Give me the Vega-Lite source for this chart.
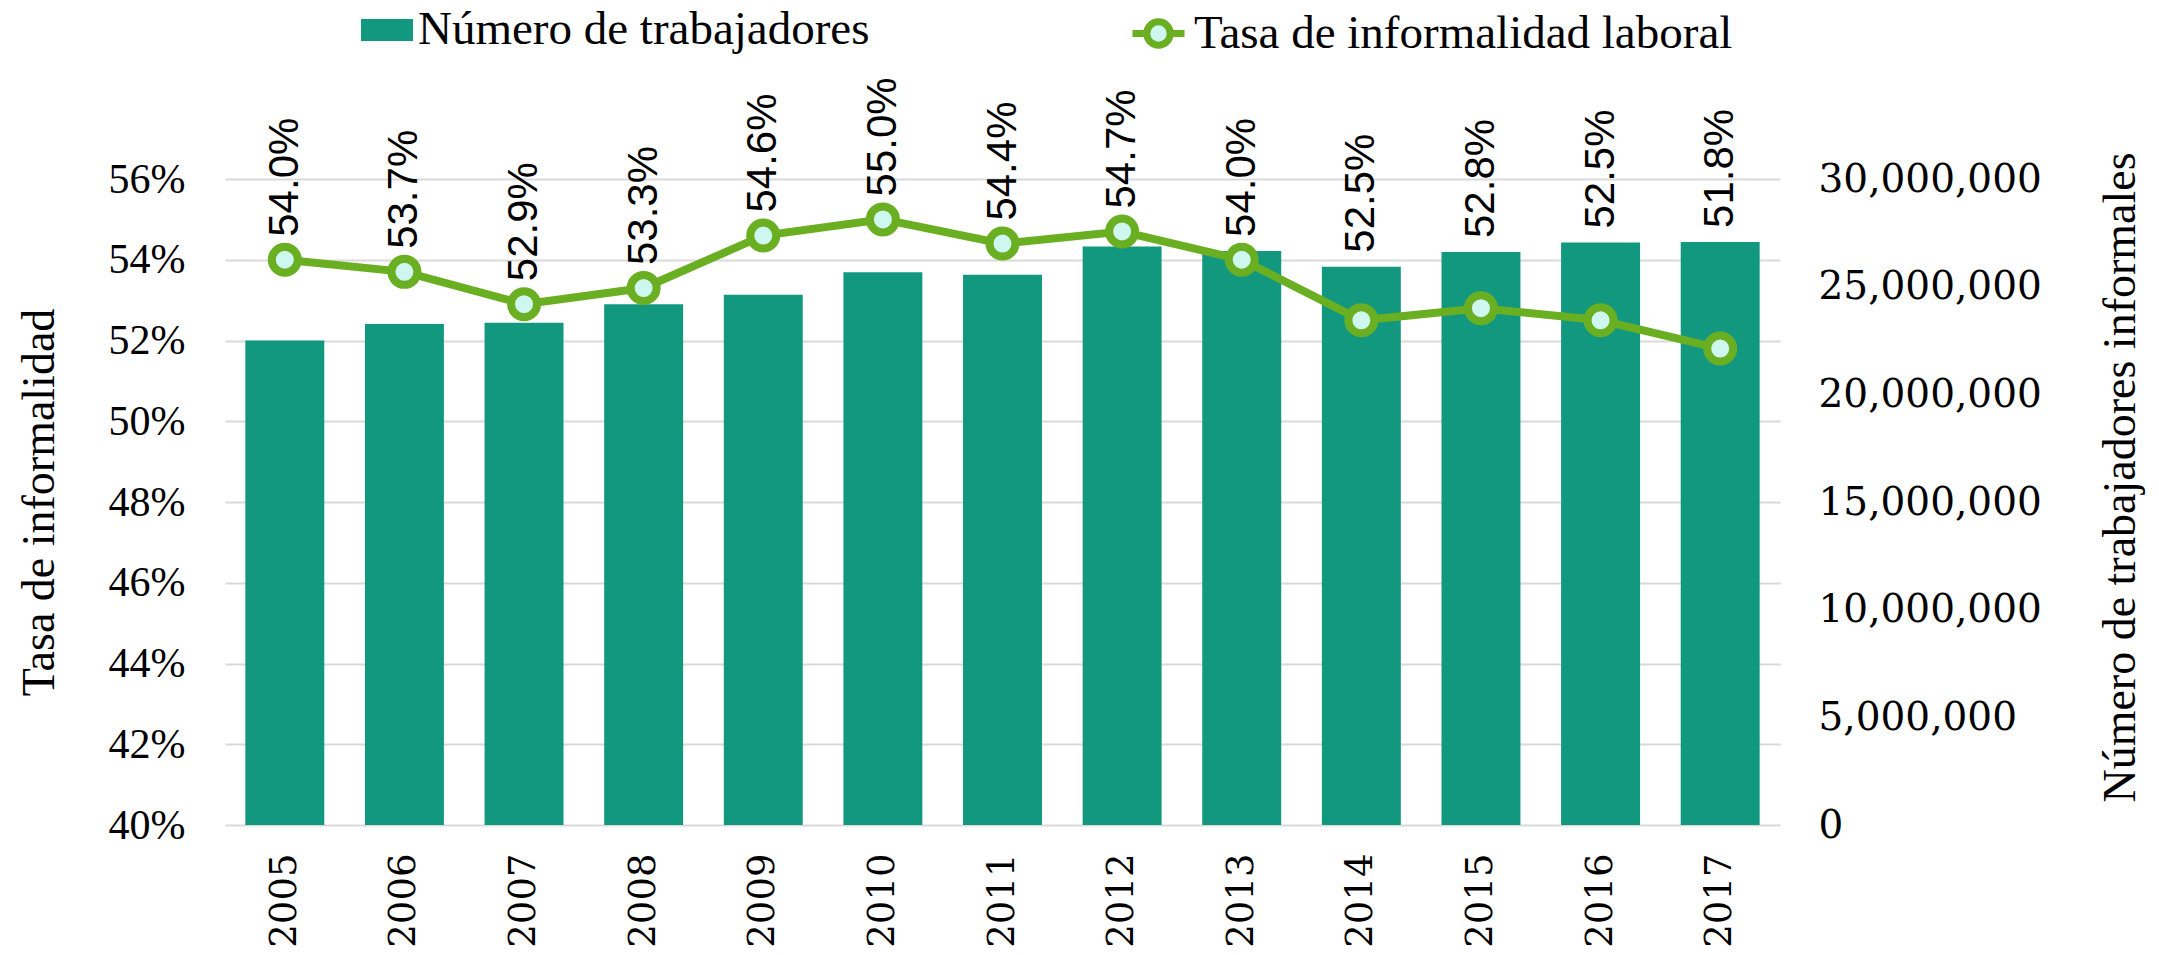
{
  "$schema": "https://vega.github.io/schema/vega-lite/v6.json",
  "width": 1555,
  "height": 646,
  "autosize": {"type": "none"},
  "padding": {"left": 225, "top": 179, "right": 379, "bottom": 130},
  "background": "white",
  "config": {
    "font": "DejaVu Serif",
    "view": {"stroke": null},
    "axis": {
      "labelFont": "DejaVu Serif",
      "labelFontSize": 37,
      "labelColor": "#000000",
      "labelLimit": 0,
      "titleFont": "Liberation Serif",
      "titleFontSize": 46,
      "titleFontWeight": "normal",
      "titleColor": "#000000",
      "titleLimit": 0,
      "ticks": false,
      "tickSize": 0,
      "domain": false
    },
    "legend": {
      "labelFont": "Liberation Serif",
      "labelFontSize": 47,
      "labelColor": "#000000",
      "labelLimit": 0,
      "padding": 0
    }
  },
  "data": {
    "values": [
      {"anio": "2005", "trabajadores": 22500000, "tasa": 0.540},
      {"anio": "2006", "trabajadores": 23270000, "tasa": 0.537},
      {"anio": "2007", "trabajadores": 23330000, "tasa": 0.529},
      {"anio": "2008", "trabajadores": 24180000, "tasa": 0.533},
      {"anio": "2009", "trabajadores": 24620000, "tasa": 0.546},
      {"anio": "2010", "trabajadores": 25670000, "tasa": 0.550},
      {"anio": "2011", "trabajadores": 25550000, "tasa": 0.544},
      {"anio": "2012", "trabajadores": 26860000, "tasa": 0.547},
      {"anio": "2013", "trabajadores": 26660000, "tasa": 0.540},
      {"anio": "2014", "trabajadores": 25930000, "tasa": 0.525},
      {"anio": "2015", "trabajadores": 26610000, "tasa": 0.528},
      {"anio": "2016", "trabajadores": 27050000, "tasa": 0.525},
      {"anio": "2017", "trabajadores": 27080000, "tasa": 0.518}
    ]
  },
  "encoding": {
    "x": {
      "field": "anio",
      "type": "ordinal",
      "scale": {"paddingInner": 0.34, "paddingOuter": 0.17},
      "axis": {
        "title": null,
        "labelAngle": 270,
        "labelAlign": "right",
        "labelBaseline": "middle",
        "labelPadding": 28,
        "grid": false
      }
    }
  },
  "layer": [
    {
      "layer": [
        {
          "mark": {"type": "bar"},
          "encoding": {
            "y": {
              "field": "trabajadores",
              "type": "quantitative",
              "scale": {"domain": [0, 30000000], "nice": false},
              "axis": {
                "orient": "right",
                "title": "Número de trabajadores informales",
                "format": ",d",
                "values": [0, 5000000, 10000000, 15000000, 20000000, 25000000, 30000000],
                "grid": false,
                "labelFontSize": 39,
                "labelPadding": 38,
                "titleAngle": 270,
                "titleBaseline": "top",
                "titleAlign": "center",
                "titleX": 318,
                "titleY": 298
              }
            },
            "fill": {
              "datum": "Número de trabajadores",
              "type": "nominal",
              "scale": {"range": ["#139880"]},
              "legend": {
                "title": null,
                "orient": "none",
                "legendX": 136,
                "legendY": -175,
                "symbolType": "M-1,-0.42H1V0.42H-1Z",
                "symbolSize": 2704,
                "symbolStrokeWidth": 0,
                "labelOffset": 5
              }
            }
          }
        },
        {
          "transform": [{"filter": "(datum.tasa - 0.40) / 0.16 < datum.trabajadores / 30000000"}],
          "mark": {"type": "text", "angle": 270, "align": "left", "baseline": "middle", "dx": 14, "fontSize": 42, "font": "Liberation Sans", "color": "#000000"},
          "encoding": {
            "y": {"field": "trabajadores", "type": "quantitative"},
            "text": {"field": "tasa", "type": "quantitative", "format": ".1%"}
          }
        }
      ]
    },
    {
      "layer": [
        {
          "mark": {"type": "line", "strokeWidth": 8},
          "encoding": {
            "y": {
              "field": "tasa",
              "type": "quantitative",
              "scale": {"domain": [0.40, 0.56], "nice": false, "zero": false},
              "axis": {
                "orient": "left",
                "title": "Tasa de informalidad",
                "format": ".0%",
                "values": [0.40, 0.42, 0.44, 0.46, 0.48, 0.50, 0.52, 0.54, 0.56],
                "grid": true,
                "gridColor": "#d9d9d9",
                "gridWidth": 2,
                "labelFont": "Liberation Serif",
                "labelFontSize": 42,
                "labelPadding": 40,
                "titlePadding": 45
              }
            },
            "stroke": {
              "datum": "Tasa de informalidad laboral",
              "type": "nominal",
              "scale": {"range": ["#6aae22"]},
              "legend": {
                "title": null,
                "orient": "none",
                "legendX": 904,
                "legendY": -175,
                "symbolType": "M-1,0H-0.45M0.45,0H1M0.45,0A0.45,0.45,0,1,1,-0.45,0A0.45,0.45,0,1,1,0.45,0Z",
                "symbolSize": 2704,
                "symbolStrokeWidth": 7,
                "symbolFillColor": "#cdf7ef",
                "labelOffset": 6,
                "encode": {"symbols": {"update": {"fill": {"value": "#cdf7ef"}}}}
              }
            }
          }
        },
        {
          "mark": {"type": "point", "shape": "circle", "filled": true, "fill": "#cdf7ef", "stroke": "#6aae22", "strokeWidth": 8, "size": 676, "opacity": 1},
          "encoding": {
            "y": {"field": "tasa", "type": "quantitative"}
          }
        },
        {
          "transform": [{"filter": "(datum.tasa - 0.40) / 0.16 >= datum.trabajadores / 30000000"}],
          "mark": {"type": "text", "angle": 270, "align": "left", "baseline": "middle", "dx": 23, "fontSize": 42, "font": "Liberation Sans", "color": "#000000"},
          "encoding": {
            "y": {"field": "tasa", "type": "quantitative"},
            "text": {"field": "tasa", "type": "quantitative", "format": ".1%"}
          }
        }
      ]
    }
  ],
  "resolve": {"scale": {"y": "independent"}}
}
